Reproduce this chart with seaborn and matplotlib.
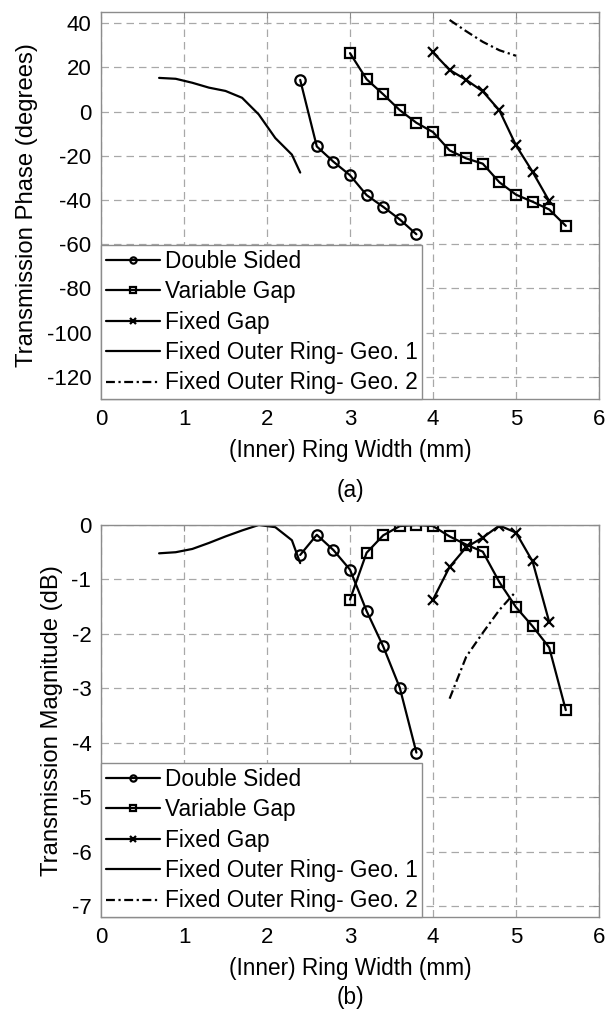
import numpy as np
import pandas as pd
import matplotlib
matplotlib.use("Agg")
import matplotlib.pyplot as plt
import seaborn as sns

# ---- data: (inner) ring width (mm) vs transmission phase / magnitude ----
ds_x = [2.4, 2.6, 2.8, 3.0, 3.2, 3.4, 3.6, 3.8]
ds_phase = [14.3, -15.8, -22.7, -28.8, -37.8, -43.1, -48.8, -55.5]
ds_mag = [-0.55, -0.18, -0.46, -0.82, -1.58, -2.23, -2.99, -4.18]

vg_x = [3.0, 3.2, 3.4, 3.6, 3.8, 4.0, 4.2, 4.4, 4.6, 4.8, 5.0, 5.2, 5.4, 5.6]
vg_phase = [26.4, 14.6, 7.8, 0.6, -5.1, -9.3, -17.6, -21.2, -23.6, -32.0,
            -37.6, -40.8, -44.3, -51.7]
vg_mag = [-1.37, -0.51, -0.19, -0.02, 0.0, -0.02, -0.21, -0.36, -0.49, -1.05,
          -1.51, -1.86, -2.25, -3.40]

fg_x = [4.0, 4.2, 4.4, 4.6, 4.8, 5.0, 5.2, 5.4]
fg_phase = [26.7, 18.8, 14.3, 9.1, 0.5, -15.3, -27.3, -40.5]
fg_mag = [-1.37, -0.77, -0.41, -0.23, -0.01, -0.14, -0.67, -1.78]

g1_x = [0.7, 0.9, 1.1, 1.3, 1.5, 1.7, 1.9, 2.1, 2.3, 2.4]
g1_phase = [15.2, 14.8, 13.0, 10.8, 9.3, 6.2, -1.3, -12.0, -19.5, -27.6]
g1_mag = [-0.52, -0.50, -0.44, -0.33, -0.21, -0.10, 0.0, -0.04, -0.28, -0.70]

g2_x = [4.2, 4.4, 4.6, 4.8, 5.0]
g2_phase = [41.4, 36.3, 31.5, 27.7, 25.2]
g2_mag = [-3.19, -2.42, -1.98, -1.56, -1.22]

series_names = ["Double Sided", "Variable Gap", "Fixed Gap",
                "Fixed Outer Ring- Geo. 1", "Fixed Outer Ring- Geo. 2"]

x_ticks = [0, 1, 2, 3, 4, 5, 6]
phase_ticks = [40, 20, 0, -20, -40, -60, -80, -100, -120]
mag_ticks = [0, -1, -2, -3, -4, -5, -6, -7]

sns.set_theme(style="white")
plt.rcParams["font.family"] = ["Liberation Sans", "DejaVu Sans"]
plt.rcParams["axes.unicode_minus"] = False
plt.rcParams["text.color"] = "black"
plt.rcParams["axes.labelcolor"] = "black"
plt.rcParams["xtick.color"] = "black"
plt.rcParams["ytick.color"] = "black"

FS = 16
LEG_FS = 16.3

fig = plt.figure(figsize=(6.06, 10.13), dpi=100)
ax_a = fig.add_axes([101 / 606, 1 - 399 / 1013, 498 / 606, 387 / 1013])
ax_b = fig.add_axes([101 / 606, 1 - 917 / 1013, 498 / 606, 392 / 1013])

styles = [
    dict(marker="o", linestyle="-"),
    dict(marker="s", linestyle="-"),
    dict(marker="x", linestyle="-"),
    dict(marker=None, linestyle="-"),
    dict(marker=None, linestyle=(0, (4, 1.6, 1, 1.6))),
]


def draw(ax, ys):
    xs = [ds_x, vg_x, fg_x, g1_x, g2_x]
    for name, x, y, st in zip(series_names, xs, ys, styles):
        df = pd.DataFrame({"w": x, "v": y})
        sns.lineplot(data=df, x="w", y="v", ax=ax, sort=False, estimator=None,
                     color="black", linewidth=1.6, label=name,
                     marker=st["marker"], linestyle=st["linestyle"],
                     markersize=7.5 if st["marker"] != "x" else 7,
                     markerfacecolor="none", markeredgecolor="black",
                     markeredgewidth=1.6)
    ax.set_xlim(0, 6)
    ax.set_xticks(x_ticks)
    ax.grid(True, color="#a8a8a8", linestyle=(0, (6, 4)), linewidth=0.9)
    for s in ax.spines.values():
        s.set_color("#8c8c8c")
        s.set_linewidth(1.0)
    ax.tick_params(direction="in", length=4, width=0.8, color="#8c8c8c",
                   labelcolor="black", top=True, right=True, labelsize=FS,
                   pad=7)
    leg = ax.legend(loc="lower left", bbox_to_anchor=(0, 0), borderaxespad=0,
                    frameon=True, fancybox=False, fontsize=LEG_FS,
                    handlelength=2.4, handletextpad=0.22, labelspacing=0.33,
                    borderpad=0.2, markerscale=0.6)
    leg.get_frame().set_edgecolor("#8c8c8c")
    leg.get_frame().set_linewidth(1.0)
    leg.get_frame().set_alpha(1)
    ax.set_xlabel("(Inner) Ring Width (mm)", fontsize=16.3, labelpad=7)


draw(ax_a, [ds_phase, vg_phase, fg_phase, g1_phase, g2_phase])
ax_a.set_ylim(-130, 45)
ax_a.set_yticks(phase_ticks)
ax_a.set_ylabel("Transmission Phase (degrees)", fontsize=17.2, labelpad=6)

draw(ax_b, [ds_mag, vg_mag, fg_mag, g1_mag, g2_mag])
ax_b.set_ylim(-7.2, 0)
ax_b.set_yticks(mag_ticks)
ax_b.set_ylabel("Transmission Magnitude (dB)", fontsize=17.2, labelpad=6)

fig.text(350 / 606, 1 - 490 / 1013, "(a)", ha="center", va="center", fontsize=16.3)
fig.text(350 / 606, 1 - 997 / 1013, "(b)", ha="center", va="center", fontsize=16.3)

fig.savefig("out.png", dpi=100, facecolor="white")
